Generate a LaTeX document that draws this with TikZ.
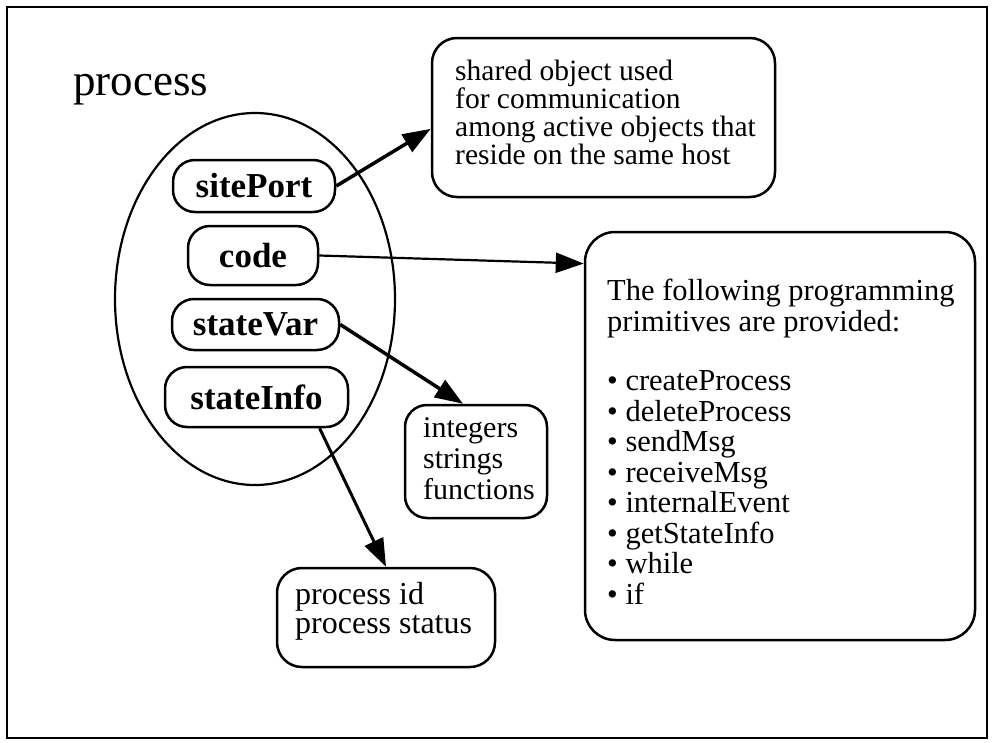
\documentclass[tikz,border=0pt]{standalone}
\usepackage{fontspec}
\setmainfont{Liberation Serif}
\usetikzlibrary{arrows.meta,calc,shapes.geometric}
\begin{document}
\begin{tikzpicture}[x=1pt,y=-1pt,
  roundbox/.style={draw, line width=2.5pt, rounded corners=#1, inner sep=0pt},
  field/.style={draw, line width=2.5pt, rounded corners=22pt, inner sep=0pt,
    font=\fontsize{35}{35}\selectfont\bfseries},
  txt/.style={anchor=north west, align=left, inner sep=0pt},
  arr/.style={-{Triangle[length=28pt,width=20pt]}, line width=3pt}]
\useasboundingbox (0,0) rectangle (993,742);

% outer frame
\draw[line width=2pt] (7,7) rectangle (987,738);

% the process object and its fields
\node[font=\fontsize{45}{45}\selectfont, anchor=base west, inner sep=0pt] (title) at (73,95) {process};
\node[draw, ellipse, line width=2.2pt, minimum width=280pt, minimum height=372pt, inner sep=0pt] (proc) at (255,299) {};

\node[field, minimum width=162pt, minimum height=52pt] (sp) at (254,186) {sitePort};
\node[field, minimum width=130pt, minimum height=59pt] (code) at (253,255.5) {code};
\node[field, minimum width=167pt, minimum height=51pt] (sv) at (255.5,324.5) {stateVar};
\node[field, minimum width=183pt, minimum height=60pt] (si) at (256.5,397) {stateInfo};

% description boxes
\node[roundbox=25pt, minimum width=343pt, minimum height=159pt] (shared) at (603.5,117.5) {};
\node[txt, font=\fontsize{29.5}{28}\selectfont] (sharedtxt) at (455,60)
  {shared object used\\for communication\\among active objects that\\reside on the same host};

\node[roundbox=30pt, minimum width=390pt, minimum height=408pt] (big) at (780,436) {};
\node[txt, font=\fontsize{30.5}{30.5}\selectfont] (bigtxt) at (607,279)
  {The following programming\\primitives are provided:\\[29pt]
   • createProcess\\• deleteProcess\\• sendMsg\\• receiveMsg\\
   • internalEvent\\• getStateInfo\\• while\\• if};

\node[roundbox=22pt, minimum width=142pt, minimum height=113pt] (ints) at (476,461.5) {};
\node[txt, font=\fontsize{30}{31}\selectfont] (intstxt) at (423,417.5)
  {integers\\strings\\functions};

\node[roundbox=25pt, minimum width=218pt, minimum height=99pt] (pid) at (386,617.5) {};
\node[txt, font=\fontsize{32}{29}\selectfont] (pidtxt) at (295,582)
  {process id\\process status};

% connectors
\draw[arr, line width=3.5pt] (sp.east) -- ($(shared.north west)!0.57!(shared.south west)$);
\draw[arr, line width=2.2pt] (code.east) -- ($(big.north west)!0.08!(big.south west)$);
\draw[arr, line width=3.5pt] (sv.east) -- ($(ints.north west)!0.41!(ints.north east)$);
\draw[arr, line width=3pt] ($(si.south west)!0.84!(si.south east)$) -- (pid.north);
\end{tikzpicture}
\end{document}
